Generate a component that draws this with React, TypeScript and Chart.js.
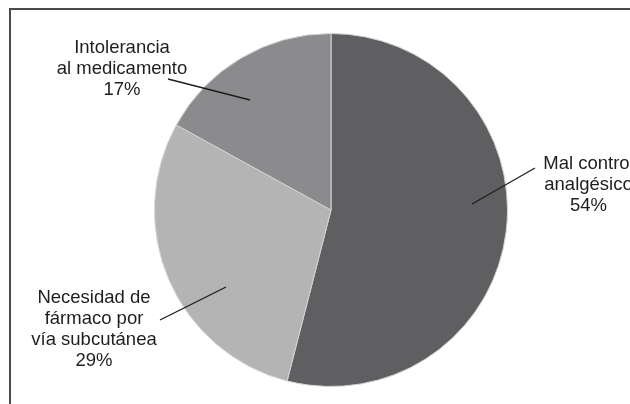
import React, { useEffect, useRef } from "react";
import { Chart, registerables } from "chart.js";

Chart.register(...registerables);

const categories: string[][] = [
  ["Mal control", "analgésico"],
  ["Necesidad de", "fármaco por", "vía subcutánea"],
  ["Intolerancia", "al medicamento"],
];
const values: number[] = [54, 29, 17];
const sliceColors: string[] = ["#5f5f61", "#b4b4b4", "#8b8b8d"];

// label layout offsets (px) relative to the pie center
const labelLayout = [
  { tx: 257.5, ty: -41, lx1: 204, ly1: -42, lx2: 141, ly2: -6 },
  { tx: -237, ty: 92.7, lx1: -171, ly1: 110, lx2: -105, ly2: 77 },
  { tx: -209, ty: -157.3, lx1: -163, ly1: -131, lx2: -81, ly2: -110 },
];

const framePlugin = {
  id: "frame",
  beforeDraw(chart: any) {
    const { ctx, width, height } = chart;
    ctx.save();
    ctx.fillStyle = "#ffffff";
    ctx.fillRect(0, 0, width, height);
    ctx.strokeStyle = "#4a4a4a";
    ctx.lineWidth = 2;
    ctx.beginPath();
    ctx.moveTo(10, height + 5);
    ctx.lineTo(10, 9);
    ctx.lineTo(width + 5, 9);
    ctx.stroke();
    ctx.restore();
  },
};

const labelPlugin = {
  id: "pieLabels",
  afterDraw(chart: any) {
    const { ctx } = chart;
    const meta = chart.getDatasetMeta(0);
    if (!meta.data.length) return;
    const cx = meta.data[0].x;
    const cy = meta.data[0].y;
    const total = values.reduce((a, b) => a + b, 0);
    ctx.save();
    ctx.fillStyle = "#1e1e1e";
    ctx.strokeStyle = "#1e1e1e";
    ctx.lineWidth = 1.3;
    ctx.font = '18.5px "Liberation Sans", Arial, sans-serif';
    ctx.textAlign = "center";
    ctx.textBaseline = "alphabetic";
    categories.forEach((lines, i) => {
      const L = labelLayout[i];
      const pct = Math.round((values[i] / total) * 100) + "%";
      const all = [...lines, pct];
      all.forEach((t, j) => {
        ctx.fillText(t, cx + L.tx, cy + L.ty + j * 21);
      });
      ctx.beginPath();
      ctx.moveTo(cx + L.lx1, cy + L.ly1);
      ctx.lineTo(cx + L.lx2, cy + L.ly2);
      ctx.stroke();
    });
    ctx.restore();
  },
};

export default function App() {
  const ref = useRef<HTMLCanvasElement | null>(null);
  useEffect(() => {
    if (!ref.current) return;
    const chart = new Chart(ref.current, {
      type: "pie",
      data: {
        labels: categories.map((c) => c.join(" ")),
        datasets: [
          {
            data: values,
            backgroundColor: sliceColors,
            borderColor: "#d4d4d4",
            borderWidth: 1,
          },
        ],
      },
      options: {
        animation: false,
        responsive: false,
        layout: { padding: { top: 33, bottom: 17, left: 32, right: 0 } },
        plugins: {
          legend: { display: false },
          tooltip: { enabled: false },
        },
      },
      plugins: [framePlugin, labelPlugin],
    });
    return () => chart.destroy();
  }, []);
  return (
    <div style={{ position: "absolute", left: 0, top: 0, width: 630, height: 404 }}>
      <canvas ref={ref} width={630} height={404} style={{ display: "block", width: 630, height: 404 }} />
    </div>
  );
}
